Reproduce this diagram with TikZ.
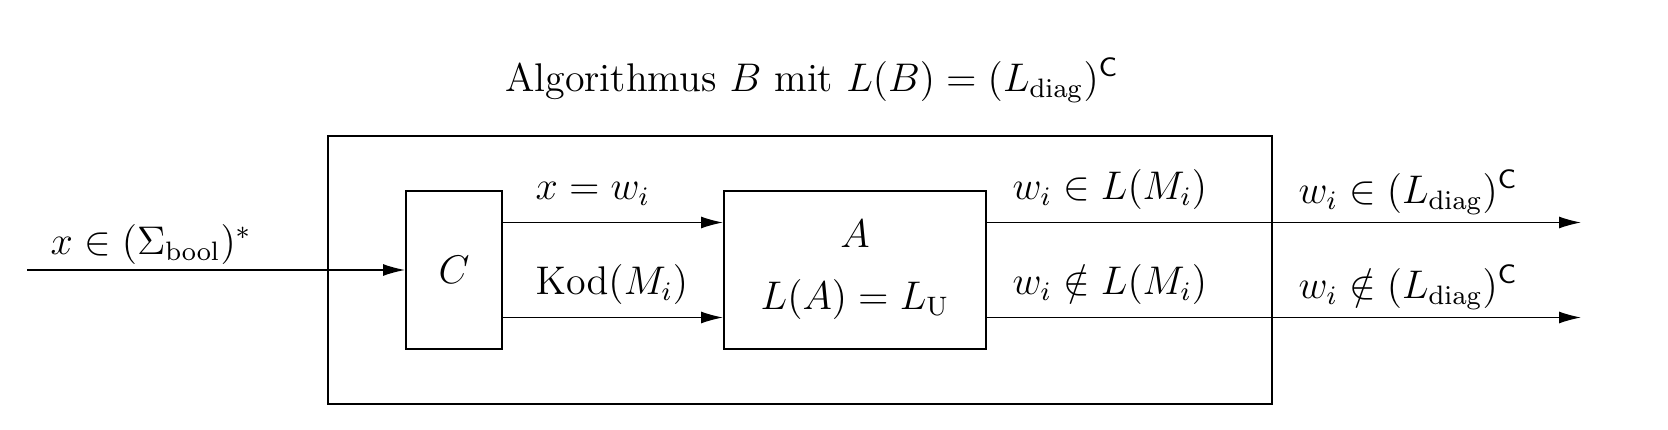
\documentclass[tikz,border=0pt]{standalone}
\usepackage{amsmath,amssymb}
\usetikzlibrary{arrows.meta,positioning}
\tikzset{
  block/.style={draw,line width=0.6pt,inner sep=0pt},
  signal/.style={-{Latex[length=6.6pt,width=3.6pt]},line width=0.4pt},
  lbl/.style={anchor=base west,inner sep=0pt,font=\large},
}
\begin{document}
\begin{tikzpicture}[x=0.3pt,y=0.3pt]
  \useasboundingbox (0,0) rectangle (1668,430);
  % boxes
  \node[block,minimum width=283.2pt,minimum height=80.4pt] (B) at (800,160) {};
  \node[block,minimum width=28.8pt,minimum height=47.4pt,font=\large] (C) at (454,160) {$C$};
  \node[block,minimum width=78.6pt,minimum height=47.4pt,font=\large,align=center] (A) at (855,160)
    {$A$\\[4.5pt]$L(A)=L_{\mathrm{U}}$};
  \node[anchor=base,inner sep=0pt,font=\large] (title) at (812,338.5)
    {Algorithmus $B$ mit $L(B)=(L_{\mathrm{diag}})^{\mathsf{C}}$};
  % end points
  \coordinate (in) at (27,160);
  \coordinate (out1) at (1581,207.5);
  \coordinate (out2) at (1581,112.5);
  % signals
  \draw[signal] (in) -- node[lbl,pos=0,xshift=6.9pt,yshift=4.65pt] {$x\in(\Sigma_{\mathrm{bool}})^*$} (C.west);
  \draw[signal] (C.east |- out1) -- node[lbl,pos=0,xshift=9.6pt,yshift=7pt] {$x=w_i$} (A.west |- out1);
  \draw[signal] (C.east |- out2) -- node[lbl,pos=0,xshift=9.6pt,yshift=7pt] {$\mathrm{Kod}(M_i)$} (A.west |- out2);
  \draw[signal] (A.east |- out1)
    -- node[lbl,pos=0,xshift=7.5pt,yshift=7pt] {$w_i\in L(M_i)$} (B.east |- out1)
    -- node[lbl,pos=0,xshift=7.5pt,yshift=5.8pt] {$w_i\in(L_{\mathrm{diag}})^{\mathsf{C}}$} (out1);
  \draw[signal] (A.east |- out2)
    -- node[lbl,pos=0,xshift=7.5pt,yshift=7pt] {$w_i\notin L(M_i)$} (B.east |- out2)
    -- node[lbl,pos=0,xshift=7.5pt,yshift=5.8pt] {$w_i\notin(L_{\mathrm{diag}})^{\mathsf{C}}$} (out2);
\end{tikzpicture}
\end{document}
